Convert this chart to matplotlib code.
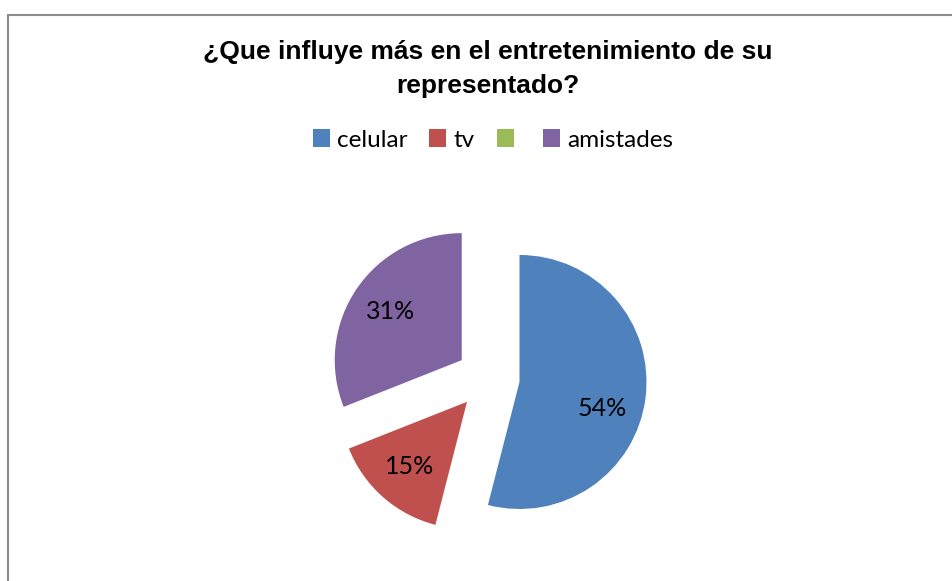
import matplotlib
matplotlib.use("Agg")
import matplotlib.pyplot as plt
from matplotlib.patches import Patch, Rectangle

# data
categories = ["celular", "tv", "", "amistades"]
values = [54, 15, 0, 31]
colors = ["#4F81BD", "#C0504D", "#9BBB59", "#8064A2"]
title = "¿Que influye más en el entretenimiento de su\nrepresentado?"

W, H = 953, 581
fig = plt.figure(figsize=(W / 100, H / 100), dpi=100)
fig.patch.set_facecolor("white")

# chart-area border (only top and left show inside the picture)
fig.patches.append(Rectangle((8 / W, -0.1), 1.2, (1 - 15 / H) + 0.1,
                             transform=fig.transFigure, fill=False,
                             edgecolor="#8c8c8c", linewidth=1.5))

# pie: centre at (488, 378) px, radius ~127 px
cx, cy, r = 488, 378, 127
side = 3 * r
ax = fig.add_axes([(cx - side / 2) / W, (H - cy - side / 2) / H, side / W, side / H])
wedges, texts, autotexts = ax.pie(
    values, colors=colors, startangle=90, counterclock=False,
    explode=[0.25] * len(values), pctdistance=0.68,
    autopct=lambda p: f"{p:.0f}%" if p > 0 else "",
    textprops=dict(fontsize=18, family="Lato", color="black"),
    wedgeprops=dict(linewidth=0))
# excel puts the big slice's label a bit lower
x0, y0 = autotexts[0].get_position()
autotexts[0].set_position((x0 - 0.02, y0 - 0.12))
ax.set_xlim(-1.5, 1.5)
ax.set_ylim(-1.5, 1.5)
ax.axis("off")

fig.text(cx / W, 1 - 69 / H, title, ha="center", va="center",
         fontsize=19, fontweight="bold", family="Liberation Sans",
         linespacing=1.55)

handles = [Patch(facecolor=c, edgecolor="none") for c in colors]
fig.legend(handles, categories, loc="center", bbox_to_anchor=(493 / W, 1 - 140 / H),
           ncol=4, frameon=False, prop=dict(family="Lato", size=17.5),
           handlelength=0.7, handleheight=0.7, handletextpad=0.3,
           columnspacing=0.9)

fig.savefig("out.png", dpi=100)
